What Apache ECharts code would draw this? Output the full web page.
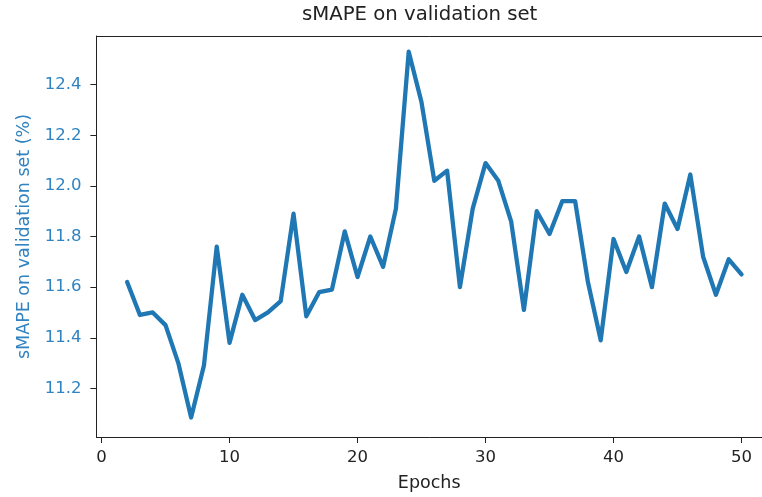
<!DOCTYPE html>
<html>
<head>
<meta charset="utf-8">
<script src="https://cdn.jsdelivr.net/npm/echarts@6/dist/echarts.min.js"></script>
<style>
  html, body { margin: 0; padding: 0; background: #fff; }
  #chart { width: 762px; height: 497px; }
</style>
</head>
<body>
<div id="chart"></div>
<script>
// values
var epochs = [2, 3, 4, 5, 6, 7, 8, 9, 10, 11, 12, 13, 14, 15, 16, 17, 18, 19, 20, 21,
  22, 23, 24, 25, 26, 27, 28, 29, 30, 31, 32, 33, 34, 35, 36, 37, 38, 39, 40, 41,
  42, 43, 44, 45, 46, 47, 48, 49, 50];
var smape = [11.62, 11.49, 11.50, 11.45, 11.30, 11.085, 11.29, 11.76, 11.38, 11.57,
  11.47, 11.50, 11.545, 11.89, 11.485, 11.58, 11.59, 11.82, 11.64, 11.80,
  11.68, 11.91, 12.53, 12.33, 12.02, 12.06, 11.60, 11.91, 12.09, 12.02,
  11.86, 11.51, 11.90, 11.81, 11.94, 11.94, 11.62, 11.39, 11.79, 11.66,
  11.80, 11.60, 11.93, 11.83, 12.045, 11.72, 11.57, 11.71, 11.65];

document.addEventListener("DOMContentLoaded", function () {
  var myChart = echarts.init(document.getElementById('chart'), null, { renderer: 'canvas' });

  var blue = '#1f77b4';
  var labelBlue = '#3083c0';
  var font = 'DejaVu Sans';
  var spine = { show: true, onZero: false, lineStyle: { color: '#222', width: 1 } };

  var points = epochs.map(function (e, i) { return [e, smape[i]]; });

  var option = {
    animation: false,
    title: {
      text: 'sMAPE on validation set',
      left: 302,
      top: 5,
      padding: 0,
      textStyle: { fontFamily: font, fontSize: 19.7, fontWeight: 'normal', color: '#222' }
    },
    grid: {
      left: 96.4,
      right: 0,
      top: 36,
      bottom: 58,
      show: false,
      containLabel: false
    },
    xAxis: [{
      type: 'value',
      min: -0.4,
      max: 51.6,   // picture is cut off before the right spine
      splitNumber: 5,
      name: 'Epochs',
      nameLocation: 'middle',
      nameGap: 37,
      nameTextStyle: { fontFamily: font, fontSize: 17.5, color: '#222' },
      axisLine: spine,
      axisTick: { show: true, length: 6, lineStyle: { color: '#222' } },
      axisLabel: {
        margin: 12,
        showMinLabel: false,
        showMaxLabel: false,
        fontFamily: font,
        fontSize: 16.5,
        color: '#222'
      },
      splitLine: { show: false }
    }, {
      // top spine only
      type: 'value',
      position: 'top',
      min: -0.4,
      max: 51.6,
      axisLine: spine,
      axisTick: { show: false },
      axisLabel: { show: false },
      splitLine: { show: false }
    }],
    yAxis: {
      type: 'value',
      min: 11.008,
      max: 12.592,
      splitNumber: 8,
      name: 'sMAPE on validation set (%)',
      nameLocation: 'middle',
      nameGap: 55,
      nameTextStyle: { fontFamily: font, fontSize: 17.5, color: labelBlue },
      axisLine: spine,
      axisTick: { show: true, length: 6, lineStyle: { color: '#222' } },
      axisLabel: {
        margin: 15,
        showMinLabel: false,
        showMaxLabel: false,
        fontFamily: font,
        fontSize: 16.5,
        color: labelBlue,
        formatter: function (v) { return v.toFixed(1); }
      },
      splitLine: { show: false }
    },
    series: [{
      name: 'sMAPE',
      type: 'line',
      xAxisIndex: 0,
      data: points,
      showSymbol: false,
      symbol: 'none',
      lineStyle: { color: blue, width: 4.3, join: 'round', cap: 'round' }
    }]
  };

  myChart.setOption(option);
});
</script>
</body>
</html>
